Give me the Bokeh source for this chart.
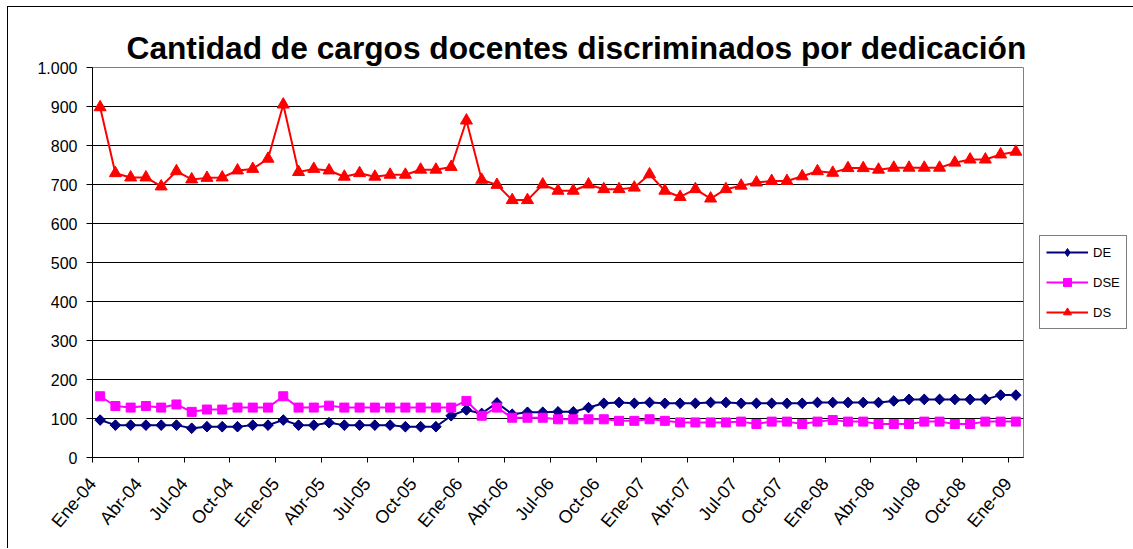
import math
from bokeh.plotting import figure
from bokeh.models import Range1d, FixedTicker, Legend, LegendItem
from bokeh.embed import file_html
from bokeh.resources import INLINE

categories = [
    "Ene-04", "Feb-04", "Mar-04", "Abr-04", "May-04", "Jun-04", "Jul-04", "Ago-04", "Sep-04", "Oct-04", "Nov-04", "Dic-04",
    "Ene-05", "Feb-05", "Mar-05", "Abr-05", "May-05", "Jun-05", "Jul-05", "Ago-05", "Sep-05", "Oct-05", "Nov-05", "Dic-05",
    "Ene-06", "Feb-06", "Mar-06", "Abr-06", "May-06", "Jun-06", "Jul-06", "Ago-06", "Sep-06", "Oct-06", "Nov-06", "Dic-06",
    "Ene-07", "Feb-07", "Mar-07", "Abr-07", "May-07", "Jun-07", "Jul-07", "Ago-07", "Sep-07", "Oct-07", "Nov-07", "Dic-07",
    "Ene-08", "Feb-08", "Mar-08", "Abr-08", "May-08", "Jun-08", "Jul-08", "Ago-08", "Sep-08", "Oct-08", "Nov-08", "Dic-08",
    "Ene-09",
]

de = [96, 83, 83, 83, 83, 83, 75, 79, 79, 79, 83, 83,
      96, 83, 83, 89, 83, 83, 83, 83, 79, 79, 79, 107,
      122, 113, 140, 111, 116, 116, 117, 117, 128, 139, 141, 139,
      141, 139, 139, 139, 141, 141, 139, 139, 139, 139, 139, 141,
      141, 141, 141, 141, 145, 149, 149, 149, 149, 149, 149, 160,
      160]

dse = [157, 132, 128, 132, 128, 136, 117, 123, 123, 128, 128, 128,
       157, 128, 128, 133, 128, 128, 128, 128, 128, 128, 128, 128,
       145, 107, 128, 102, 102, 102, 98, 98, 98, 98, 94, 94,
       98, 94, 90, 90, 90, 90, 92, 86, 92, 92, 86, 92,
       96, 92, 92, 86, 86, 86, 92, 92, 86, 86, 92, 92,
       92]

ds = [898, 729, 718, 718, 695, 734, 713, 717, 718, 736, 740, 766,
      905, 732, 740, 736, 720, 729, 720, 725, 725, 738, 738, 745,
      864, 712, 699, 660, 660, 700, 684, 684, 700, 688, 688, 692,
      726, 684, 668, 688, 664, 688, 697, 705, 709, 709, 721, 734,
      730, 742, 742, 738, 743, 743, 743, 743, 756, 764, 764, 777,
      784]

y_ticks = [0, 100, 200, 300, 400, 500, 600, 700, 800, 900, 1000]
y_tick_labels = ["0", "100", "200", "300", "400", "500", "600", "700", "800", "900", "1.000"]
series_names = ["DE", "DSE", "DS"]
title_text = "Cantidad de cargos docentes discriminados por dedicación"

FONT = "Liberation Sans"
n = len(categories)
x = [i + 0.5 for i in range(n)]

p = figure(frame_width=931, frame_height=390, output_backend="svg", toolbar_location=None,
           x_range=Range1d(0, n), y_range=Range1d(0, 1000),
           min_border_left=84, min_border_right=109, min_border_top=60, min_border_bottom=91)
p.styles = {"margin-left": "7px", "margin-top": "6px",
            "border-left": "1px solid black", "border-top": "1px solid black"}
p.background_fill_color = "white"
p.border_fill_color = "white"
p.outline_line_color = "#808080"

p.title.text = title_text
p.title.align = "left"
p.title.offset = 34
p.title.text_font = FONT
p.title.text_font_size = "31.7px"
p.title.text_font_style = "bold"
p.title.text_color = "black"
p.title.standoff = 4

# axes
p.yaxis.ticker = FixedTicker(ticks=y_ticks)
p.yaxis.major_label_overrides = {t: l for t, l in zip(y_ticks, y_tick_labels)}
p.yaxis.major_tick_in = 0
p.yaxis.major_tick_out = 6
p.yaxis.minor_tick_line_color = None
p.yaxis.major_label_standoff = 9
p.yaxis.major_label_text_font = FONT
p.yaxis.major_label_text_font_size = "16px"
p.yaxis.major_label_text_color = "black"
p.yaxis.axis_line_color = "black"
p.yaxis.major_tick_line_color = "black"

xt = list(range(0, n, 3))
p.xaxis.ticker = FixedTicker(ticks=xt)
p.xaxis.major_label_overrides = {t: categories[t] for t in xt}
p.xaxis.major_label_orientation = 0.87
p.xaxis.major_tick_in = 0
p.xaxis.major_tick_out = 5
p.xaxis.minor_tick_line_color = None
p.xaxis.major_label_standoff = 18
p.xaxis.major_label_text_font = FONT
p.xaxis.major_label_text_font_size = "18px"
p.xaxis.major_label_text_color = "black"
p.xaxis.axis_line_color = "black"
p.xaxis.major_tick_line_color = "black"

p.xgrid.visible = False
p.ygrid.grid_line_color = "black"
p.ygrid.grid_line_width = 1

# series
l_de = p.line(x, de, line_color="#000080", line_width=2)
m_de_leg = p.scatter(x, de, marker="diamond", size=10,
                     fill_color="#000080", line_color="#000080")
m_de = p.scatter(x, de, marker="square", angle=math.pi / 4, size=7.5,
                 fill_color="#000080", line_color="#000080")
l_dse = p.line(x, dse, line_color="#FF00FF", line_width=2)
m_dse = p.scatter(x, dse, marker="square", size=9,
                  fill_color="#FF00FF", line_color="#FF00FF")
l_ds = p.line(x, ds, line_color="#FF0000", line_width=2)
m_ds = p.scatter(x, ds, marker="triangle", size=12,
                 fill_color="#FF0000", line_color="#FF0000")

legend = Legend(items=[
    LegendItem(label=series_names[0], renderers=[l_de, m_de_leg]),
    LegendItem(label=series_names[1], renderers=[l_dse, m_dse]),
    LegendItem(label=series_names[2], renderers=[l_ds, m_ds]),
], location=(16, 128))
legend.label_text_font = FONT
legend.label_text_font_size = "13px"
legend.label_text_color = "black"
legend.glyph_width = 42
legend.glyph_height = 20
legend.label_height = 20
legend.spacing = 10
legend.padding = 6
legend.margin = 10
legend.label_standoff = 5
legend.border_line_color = "black"
legend.border_line_width = 1
legend.background_fill_color = "white"
legend.background_fill_alpha = 1
p.add_layout(legend, "right")

open("out.html", "w").write(file_html(p, INLINE))
